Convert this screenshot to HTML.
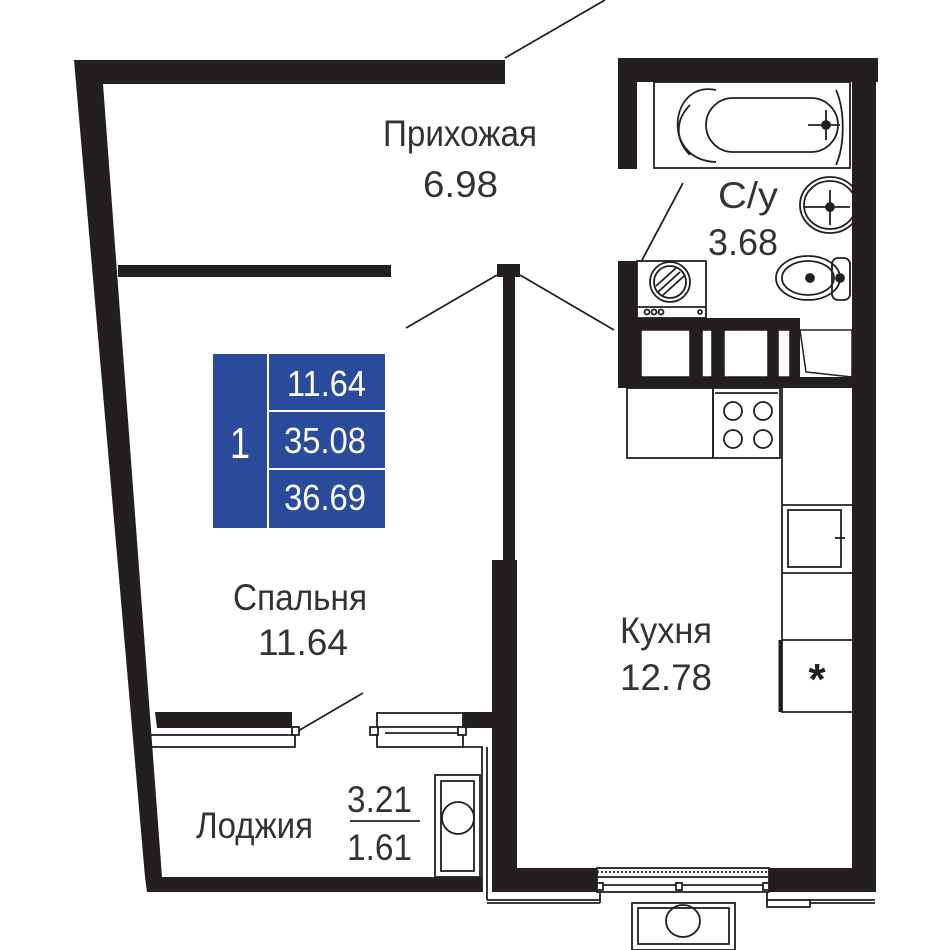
<!DOCTYPE html>
<html><head><meta charset="utf-8"><style>
html,body{margin:0;padding:0;background:#fff;}
svg{display:block;}
text{font-family:"Liberation Sans",sans-serif;}
</style></head><body>
<svg width="950" height="950" viewBox="0 0 950 950" xmlns="http://www.w3.org/2000/svg">
<g fill="#231f20" stroke="none">
<polygon points="74,60 505,60 505,84 103,84 162,877 145,877"/>
<rect x="118" y="265" width="273" height="12"/>
<rect x="497" y="264" width="23" height="13"/>
<rect x="503" y="277" width="12" height="285"/>
<rect x="492" y="560" width="25" height="332"/>
<polygon points="155,712 292,712 292,728 157,728"/>
<rect x="463" y="712" width="30" height="16"/>
<polygon points="145,877 482,877 482,892 147,892"/>
<rect x="618" y="58" width="260" height="24"/>
<rect x="852" y="58" width="24" height="834"/>
<rect x="618" y="82" width="19" height="87"/>
<rect x="618" y="261" width="19" height="127"/>
<rect x="637" y="318" width="163" height="70"/>
<rect x="637" y="377" width="215" height="11"/>
<rect x="492" y="868" width="105" height="24"/>
<rect x="769" y="868" width="90" height="24"/>
</g>
<g fill="#fff" stroke="#231f20" stroke-width="1.5">
<rect x="641" y="330" width="49" height="47"/>
<rect x="702" y="330" width="10" height="47"/>
<rect x="724" y="330" width="44" height="47"/>
<rect x="778" y="330" width="12" height="47"/>
</g>
<polygon points="800,330 852,330 852,377 806,372" fill="#fff" stroke="#231f20" stroke-width="1.5"/>
<g fill="none" stroke="#231f20" stroke-width="1.8">
<line x1="505" y1="58" x2="605" y2="0"/>
<line x1="497" y1="275" x2="406" y2="328"/>
<line x1="520" y1="275" x2="614" y2="330"/>
<line x1="641" y1="262" x2="683" y2="183"/>
<line x1="298" y1="731" x2="363" y2="693"/>
<rect x="150" y="735" width="145" height="12"/>
<rect x="292" y="727" width="7" height="8" fill="#fff"/>
<rect x="377" y="713" width="86" height="34" fill="#fff"/>
<line x1="377" y1="727" x2="463" y2="727"/>
<line x1="385" y1="733" x2="460" y2="733"/>
<rect x="370" y="727" width="8" height="8" fill="#fff"/>
<rect x="458" y="727" width="8" height="8" fill="#fff"/>
<polyline points="463,747 482,747 482,892"/>
<line x1="487" y1="747" x2="487" y2="900"/>
<rect x="435" y="775" width="45" height="102"/>
<rect x="441" y="781" width="33" height="90"/>
<circle cx="458" cy="818" r="16"/>
<line x1="350" y1="821" x2="420" y2="821"/>
<rect x="654" y="82" width="196" height="86"/>
<rect x="706" y="98" width="132" height="54" rx="27"/>
<path d="M716,90 C670,80 660,160 716,162"/>
<path d="M690,105 C675,120 675,140 690,155"/>
<path d="M836,90 C845,110 845,145 836,165"/>
<line x1="808" y1="125" x2="840" y2="125"/><line x1="826" y1="110" x2="826" y2="140"/>
<circle cx="826" cy="125" r="4" fill="#231f20"/>
<ellipse cx="830" cy="205" rx="30" ry="28"/>
<ellipse cx="830" cy="205" rx="26" ry="24"/>
<line x1="805" y1="207" x2="850" y2="207"/><line x1="830" y1="190" x2="830" y2="225"/>
<circle cx="830" cy="207" r="4" fill="#231f20"/>
<ellipse cx="808" cy="278" rx="32" ry="22"/>
<ellipse cx="808" cy="278" rx="26" ry="17"/>
<rect x="832" y="258" width="18" height="42" rx="6"/>
<circle cx="810" cy="278" r="4" fill="#231f20"/><circle cx="840" cy="278" r="4" fill="#231f20"/>
<rect x="637" y="261" width="69" height="57"/>
<line x1="637" y1="307" x2="706" y2="307"/>
<circle cx="670" cy="282" r="20"/><circle cx="670" cy="282" r="16"/>
<line x1="658" y1="292" x2="680" y2="272"/><line x1="662" y1="296" x2="684" y2="276"/><line x1="656" y1="286" x2="676" y2="268"/>
<circle cx="647" cy="312" r="2.5"/><circle cx="654" cy="312" r="2.5"/><circle cx="661" cy="312" r="2.5"/><circle cx="700" cy="312" r="2"/>
<rect x="627" y="388" width="86" height="70"/>
<rect x="713" y="388" width="67" height="70"/>
<line x1="715" y1="393" x2="778" y2="393"/>
<circle cx="733" cy="411" r="9"/><circle cx="763" cy="411" r="9"/>
<circle cx="733" cy="439" r="9"/><circle cx="763" cy="439" r="9"/>
<polyline points="782,388 782,712 852,712"/>
<line x1="782" y1="505" x2="852" y2="505"/>
<line x1="782" y1="573" x2="852" y2="573"/>
<line x1="782" y1="640" x2="852" y2="640"/>
<rect x="788" y="510" width="53" height="57"/>
<line x1="835" y1="538" x2="845" y2="538"/>
<line x1="780" y1="640" x2="780" y2="712" stroke-width="3"/>
<rect x="597" y="868" width="172" height="24" fill="#fff"/>
<line x1="597" y1="872" x2="769" y2="872" stroke-dasharray="2,2"/>
<line x1="597" y1="877" x2="769" y2="877"/>
<line x1="600" y1="885" x2="766" y2="885"/>
<rect x="597" y="883" width="6" height="7" fill="#fff"/><rect x="676" y="883" width="6" height="7" fill="#fff"/><rect x="763" y="883" width="6" height="7" fill="#fff"/>
<line x1="487" y1="900" x2="600" y2="900"/><line x1="487" y1="903" x2="600" y2="903"/>
<line x1="600" y1="892" x2="600" y2="903"/>
<line x1="767" y1="892" x2="767" y2="903"/>
<rect x="767" y="900" width="43" height="7"/>
<line x1="810" y1="900" x2="875" y2="900"/><line x1="810" y1="903" x2="875" y2="903"/>
<rect x="632" y="903" width="103" height="47"/>
<rect x="638" y="908" width="91" height="36"/>
<ellipse cx="683" cy="921" rx="17" ry="16"/>
</g>
<text x="817" y="694" font-size="44" font-weight="bold" fill="#231f20" text-anchor="middle">*</text>
<rect x="213" y="354" width="172" height="174" fill="#2a4a9b"/>
<g stroke="#fff" stroke-width="2">
<line x1="268" y1="354" x2="268" y2="528"/>
<line x1="268" y1="411" x2="385" y2="411"/>
<line x1="268" y1="469" x2="385" y2="469"/>
</g>
<g fill="#fff">
<text x="230" y="458" font-size="44" textLength="20" lengthAdjust="spacingAndGlyphs">1</text>
<text x="287" y="396" font-size="36" textLength="79" lengthAdjust="spacingAndGlyphs">11.64</text>
<text x="284" y="453" font-size="36" textLength="82" lengthAdjust="spacingAndGlyphs">35.08</text>
<text x="284" y="510" font-size="36" textLength="82" lengthAdjust="spacingAndGlyphs">36.69</text>
</g>
<g fill="#333" font-size="37">
<text x="383" y="146" textLength="154" lengthAdjust="spacingAndGlyphs">Прихожая</text>
<text x="423" y="197" textLength="75" lengthAdjust="spacingAndGlyphs">6.98</text>
<text x="718" y="208" textLength="60" lengthAdjust="spacingAndGlyphs">С/у</text>
<text x="708" y="255" textLength="70" lengthAdjust="spacingAndGlyphs">3.68</text>
<text x="233" y="610" textLength="134" lengthAdjust="spacingAndGlyphs">Спальня</text>
<text x="258" y="655" textLength="90" lengthAdjust="spacingAndGlyphs">11.64</text>
<text x="620" y="643" textLength="92" lengthAdjust="spacingAndGlyphs">Кухня</text>
<text x="620" y="690" textLength="92" lengthAdjust="spacingAndGlyphs">12.78</text>
<text x="196" y="838" textLength="117" lengthAdjust="spacingAndGlyphs">Лоджия</text>
<text x="347" y="812" textLength="65" lengthAdjust="spacingAndGlyphs">3.21</text>
<text x="347" y="860" textLength="65" lengthAdjust="spacingAndGlyphs">1.61</text>
</g>
</svg>
</body></html>
